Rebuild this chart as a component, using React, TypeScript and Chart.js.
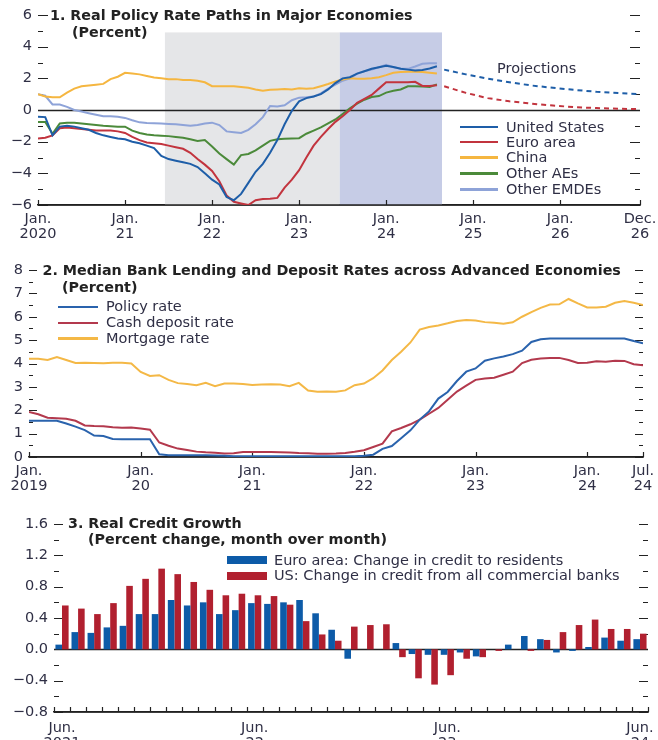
import React, { useEffect, useRef } from "react";
import { Chart, registerables } from "chart.js";
Chart.register(...registerables);

const FONT = '"DejaVu Sans", sans-serif';
const W = 658;
const TXT = "#2f2f45";
const INK = "#222222";

// ---------- Panel 1: Real policy rate paths (months since Jan 2020) ----------
const p1TickMonths = [0, 12, 24, 36, 48, 60, 72, 83];
const p1TickLabels = [["Jan.", "2020"], ["Jan.", "21"], ["Jan.", "22"], ["Jan.", "23"], ["Jan.", "24"], ["Jan.", "25"], ["Jan.", "26"], ["Dec.", "26"]];
const p1Series = ["United States", "Euro area", "China", "Other AEs", "Other EMDEs"];
const p1US = [-0.42, -0.45, -1.6, -1.05, -1.0, -1.05, -1.15, -1.25, -1.45, -1.6, -1.7, -1.8, -1.85, -2.0, -2.1, -2.25, -2.4, -2.9, -3.1, -3.2, -3.3, -3.4, -3.6, -4.0, -4.4, -4.7, -5.5, -5.7, -5.3, -4.6, -3.9, -3.4, -2.7, -1.9, -0.9, -0.05, 0.55, 0.75, 0.85, 1.0, 1.3, 1.7, 2.0, 2.07, 2.3, 2.45, 2.6, 2.7, 2.8, 2.72, 2.6, 2.55, 2.5, 2.52, 2.62, 2.76];
const p1EA = [-1.8, -1.75, -1.6, -1.15, -1.1, -1.15, -1.2, -1.25, -1.3, -1.3, -1.3, -1.35, -1.45, -1.7, -1.9, -2.05, -2.1, -2.15, -2.25, -2.35, -2.45, -2.7, -3.1, -3.45, -3.85, -4.5, -5.4, -5.8, -5.9, -6.0, -5.7, -5.62, -5.6, -5.55, -4.9, -4.4, -3.8, -3.0, -2.25, -1.7, -1.2, -0.75, -0.4, 0.0, 0.45, 0.7, 0.95, 1.35, 1.75, 1.75, 1.75, 1.76, 1.78, 1.52, 1.52, 1.56];
const p1CN = [1.0, 0.85, 0.8, 0.8, 1.1, 1.35, 1.5, 1.55, 1.6, 1.65, 1.95, 2.1, 2.35, 2.3, 2.25, 2.15, 2.05, 2.0, 1.95, 1.95, 1.9, 1.9, 1.85, 1.75, 1.5, 1.5, 1.5, 1.5, 1.45, 1.4, 1.3, 1.22, 1.28, 1.3, 1.32, 1.3, 1.37, 1.35, 1.37, 1.5, 1.64, 1.8, 1.92, 2.0, 1.98, 1.97, 2.0, 2.07, 2.2, 2.35, 2.4, 2.42, 2.42, 2.4, 2.35, 2.3];
const p1AE = [-0.75, -0.75, -1.5, -0.85, -0.8, -0.8, -0.85, -0.9, -0.95, -1.0, -1.03, -1.05, -1.05, -1.3, -1.45, -1.55, -1.6, -1.62, -1.65, -1.7, -1.75, -1.85, -1.95, -1.9, -2.3, -2.75, -3.1, -3.45, -2.85, -2.78, -2.55, -2.25, -1.95, -1.85, -1.82, -1.8, -1.78, -1.5, -1.3, -1.1, -0.85, -0.6, -0.25, 0.1, 0.4, 0.65, 0.82, 0.88, 1.1, 1.22, 1.3, 1.5, 1.5, 1.48, 1.45, 1.62];
const p1EM = [1.0, 0.9, 0.35, 0.35, 0.2, 0.0, -0.1, -0.2, -0.3, -0.4, -0.4, -0.42, -0.5, -0.65, -0.78, -0.82, -0.84, -0.85, -0.88, -0.9, -0.95, -1.0, -0.95, -0.85, -0.8, -0.95, -1.35, -1.4, -1.45, -1.25, -0.9, -0.45, 0.25, 0.22, 0.3, 0.62, 0.78, 0.8, 0.85, 1.05, 1.35, 1.6, 1.85, 2.0, 2.3, 2.45, 2.55, 2.7, 2.85, 2.7, 2.62, 2.6, 2.75, 2.92, 2.95, 2.95];
const p1ProjMonths = [56, 59, 62, 65, 68, 71, 74, 77, 80, 83];
const p1ProjUS = [2.55, 2.25, 1.98, 1.75, 1.55, 1.4, 1.27, 1.15, 1.07, 1.0];
const p1ProjEA = [1.5, 1.08, 0.75, 0.55, 0.4, 0.28, 0.18, 0.12, 0.08, 0.05];
const p1ShadeGray = [17.5, 41.6];
const p1ShadeBlue = [41.6, 55.7];
const p1ShadeTop = 4.9;

// ---------- Panel 2: Median bank rates (months since Jan 2019) ----------
const p2TickMonths = [0, 12, 24, 36, 48, 60, 66];
const p2TickLabels = [["Jan.", "2019"], ["Jan.", "20"], ["Jan.", "21"], ["Jan.", "22"], ["Jan.", "23"], ["Jan.", "24"], ["Jul.", "24"]];
const p2Series = ["Policy rate", "Cash deposit rate", "Mortgage rate"];
const p2Policy = [1.55, 1.55, 1.55, 1.55, 1.43, 1.3, 1.15, 0.92, 0.9, 0.77, 0.76, 0.76, 0.76, 0.76, 0.12, 0.07, 0.07, 0.07, 0.07, 0.07, 0.06, 0.05, 0.03, 0.03, 0.03, 0.03, 0.03, 0.03, 0.03, 0.03, 0.03, 0.03, 0.03, 0.03, 0.03, 0.03, 0.05, 0.1, 0.35, 0.47, 0.8, 1.14, 1.6, 1.95, 2.5, 2.78, 3.25, 3.65, 3.79, 4.12, 4.22, 4.3, 4.4, 4.55, 4.92, 5.04, 5.07, 5.07, 5.07, 5.07, 5.07, 5.07, 5.07, 5.07, 5.07, 4.96, 4.86];
const p2Deposit = [1.93, 1.83, 1.68, 1.66, 1.64, 1.55, 1.35, 1.33, 1.32, 1.27, 1.25, 1.26, 1.22, 1.17, 0.62, 0.48, 0.36, 0.3, 0.23, 0.2, 0.18, 0.15, 0.16, 0.21, 0.21, 0.21, 0.21, 0.2, 0.19, 0.17, 0.16, 0.14, 0.14, 0.15, 0.17, 0.22, 0.29, 0.43, 0.57, 1.1, 1.24, 1.4, 1.6, 1.85, 2.1, 2.45, 2.8, 3.05, 3.3, 3.36, 3.39, 3.52, 3.65, 4.02, 4.16, 4.21, 4.23, 4.24, 4.15, 4.02, 4.03, 4.1, 4.08, 4.12, 4.11, 3.97, 3.93];
const p2Mortgage = [4.2, 4.2, 4.15, 4.28, 4.15, 4.02, 4.03, 4.02, 4.01, 4.03, 4.03, 4.0, 3.64, 3.47, 3.5, 3.3, 3.16, 3.12, 3.07, 3.17, 3.03, 3.14, 3.14, 3.12, 3.08, 3.1, 3.11, 3.1, 3.03, 3.17, 2.84, 2.79, 2.8, 2.79, 2.85, 3.07, 3.14, 3.37, 3.7, 4.15, 4.5, 4.9, 5.45, 5.56, 5.63, 5.72, 5.82, 5.86, 5.84, 5.77, 5.74, 5.7, 5.76, 6.0, 6.2, 6.38, 6.52, 6.53, 6.76, 6.57, 6.4, 6.4, 6.43, 6.6, 6.67, 6.6, 6.5];

// ---------- Panel 3: Real credit growth (Jun 2021 - Jun 2024) ----------
const p3Months = ["Jun 2021", "Jul 2021", "Aug 2021", "Sep 2021", "Oct 2021", "Nov 2021", "Dec 2021", "Jan 2022", "Feb 2022", "Mar 2022", "Apr 2022", "May 2022", "Jun 2022", "Jul 2022", "Aug 2022", "Sep 2022", "Oct 2022", "Nov 2022", "Dec 2022", "Jan 2023", "Feb 2023", "Mar 2023", "Apr 2023", "May 2023", "Jun 2023", "Jul 2023", "Aug 2023", "Sep 2023", "Oct 2023", "Nov 2023", "Dec 2023", "Jan 2024", "Feb 2024", "Mar 2024", "Apr 2024", "May 2024", "Jun 2024"];
const p3TickIdx = [0, 12, 24, 36];
const p3TickLabels = [["Jun.", "2021"], ["Jun.", "22"], ["Jun.", "23"], ["Jun.", "24"]];
const p3Series = ["Euro area: Change in credit to residents", "US: Change in credit from all commercial banks"];
const p3EA = [0.06, 0.22, 0.21, 0.28, 0.3, 0.45, 0.45, 0.63, 0.56, 0.6, 0.45, 0.5, 0.59, 0.58, 0.6, 0.63, 0.46, 0.25, -0.12, 0.0, 0.0, 0.08, -0.06, -0.07, -0.07, -0.04, -0.09, 0.0, 0.06, 0.17, 0.13, -0.04, -0.02, 0.03, 0.15, 0.11, 0.13];
const p3US = [0.56, 0.52, 0.45, 0.59, 0.81, 0.9, 1.03, 0.96, 0.86, 0.76, 0.69, 0.71, 0.69, 0.68, 0.57, 0.36, 0.19, 0.11, 0.29, 0.31, 0.32, -0.1, -0.37, -0.45, -0.33, -0.12, -0.1, -0.02, 0.0, -0.02, 0.12, 0.22, 0.31, 0.38, 0.26, 0.26, 0.2];

// ---------- colours ----------
const C_US = "#1e5ea8";
const C_EA = "#c2343e";
const C_CN = "#f5b640";
const C_AE = "#4b8a3a";
const C_EM = "#8ea3d8";
const C2_POL = "#2a63ad";
const C2_DEP = "#b3394d";
const C2_MOR = "#f4b846";
const C3_EA = "#0d5ba8";
const C3_US = "#b1202f";

const fmtNum = (v: number, d: number) => {
  const s = Math.abs(v).toFixed(d);
  return v < -1e-9 ? "\u2212" + s : s;
};

type MarkCfg = {
  majorStep: number;
  majorLen: number;
  minorLen: number;
  zero?: boolean;
  xTickValues?: number[];
  categories?: number;
  shades?: { from: number; to: number; top: number; color: string }[];
};

function drawMarks(chart: any, cfg: MarkCfg) {
  const ctx = chart.ctx;
  const a = chart.chartArea;
  const x = chart.scales.x;
  const y = chart.scales.y;
  ctx.save();
  (cfg.shades || []).forEach((s) => {
    const x0 = x.getPixelForValue(s.from);
    const x1 = x.getPixelForValue(s.to);
    const y0 = y.getPixelForValue(s.top);
    ctx.fillStyle = s.color;
    ctx.fillRect(x0, y0, x1 - x0, a.bottom - y0);
  });
  ctx.strokeStyle = INK;
  if (cfg.zero) {
    const pz = Math.round(y.getPixelForValue(0)) + 0.5;
    ctx.lineWidth = 1.4;
    ctx.beginPath();
    ctx.moveTo(a.left, pz);
    ctx.lineTo(a.right, pz);
    ctx.stroke();
  }
  ctx.lineWidth = 1.2;
  ctx.beginPath();
  const yt = y.ticks || [];
  for (let i = 0; i < yt.length; i++) {
    const v = yt[i].value;
    const r = v / cfg.majorStep;
    const major = Math.abs(r - Math.round(r)) < 1e-6;
    const len = major ? cfg.majorLen : cfg.minorLen;
    const py = Math.round(y.getPixelForValue(v)) + 0.5;
    ctx.moveTo(a.left, py);
    ctx.lineTo(a.left + len, py);
    ctx.moveTo(a.right, py);
    ctx.lineTo(a.right - len, py);
  }
  const xs: number[] = [];
  if (cfg.categories) {
    const n = cfg.categories;
    const hw = (x.getPixelForValue(1) - x.getPixelForValue(0)) / 2;
    for (let i = 0; i < n; i++) xs.push(x.getPixelForValue(i) - hw);
    xs.push(x.getPixelForValue(n - 1) + hw);
  } else {
    (cfg.xTickValues || []).forEach((v) => xs.push(x.getPixelForValue(v)));
  }
  for (let i = 0; i < xs.length; i++) {
    const p = Math.round(xs[i]) + 0.5;
    ctx.moveTo(p, a.bottom);
    ctx.lineTo(p, a.bottom - 5);
  }
  ctx.stroke();
  ctx.lineWidth = 1.6;
  ctx.beginPath();
  ctx.moveTo(a.left, a.bottom);
  ctx.lineTo(a.right + 0.5, a.bottom);
  ctx.stroke();
  ctx.restore();
}

function makeMarks(cfg: MarkCfg) {
  return {
    id: "panelMarks",
    beforeDatasetsDraw(chart: any) {
      drawMarks(chart, cfg);
    },
  };
}

const tickFont = { family: FONT, size: 14.5, lineHeight: 1.0 };

function yAxis(min: number, max: number, step: number, width: number, label: (v: number) => string) {
  return {
    type: "linear",
    min,
    max,
    grid: { display: false, drawTicks: false },
    border: { display: false },
    ticks: {
      stepSize: step,
      autoSkip: false,
      padding: 6,
      color: TXT,
      font: tickFont,
      callback: (v: any) => label(Number(v)),
    },
    afterFit: (s: any) => {
      s.width = width;
      s.paddingTop = 0;
      s.paddingBottom = 0;
    },
  };
}

function xLinear(min: number, max: number, vals: number[], labels: string[][], height: number) {
  return {
    type: "linear",
    min,
    max,
    grid: { display: false, drawTicks: false },
    border: { display: true, color: INK, width: 1.6 },
    afterBuildTicks: (s: any) => {
      s.ticks = vals.map((v) => ({ value: v }));
    },
    ticks: {
      autoSkip: false,
      maxRotation: 0,
      minRotation: 0,
      padding: 7,
      color: TXT,
      font: tickFont,
      callback: (_v: any, i: number) => labels[i],
    },
    afterFit: (s: any) => {
      s.height = height;
      s.paddingLeft = 0;
      s.paddingRight = 0;
    },
  };
}

const basePlugins = { legend: { display: false }, tooltip: { enabled: false } };

function config1() {
  const line = (data: number[], color: string) => ({
    data: data.map((v, i) => ({ x: i, y: v })),
    borderColor: color,
    borderWidth: 2,
    pointRadius: 0,
    tension: 0,
    fill: false,
  });
  const dash = (months: number[], data: number[], color: string) => ({
    data: data.map((v, i) => ({ x: months[i], y: v })),
    borderColor: color,
    borderWidth: 2,
    borderDash: [5, 4],
    pointRadius: 0,
    tension: 0,
    fill: false,
  });
  return {
    type: "line",
    data: {
      datasets: [
        { label: p1Series[0], ...line(p1US, C_US) },
        { label: p1Series[1], ...line(p1EA, C_EA) },
        { label: p1Series[2], ...line(p1CN, C_CN) },
        { label: p1Series[3], ...line(p1AE, C_AE) },
        { label: p1Series[4], ...line(p1EM, C_EM) },
        { label: "US projection", ...dash(p1ProjMonths, p1ProjUS, C_US) },
        { label: "EA projection", ...dash(p1ProjMonths, p1ProjEA, C_EA) },
      ],
    },
    options: {
      responsive: false,
      animation: false,
      events: [],
      layout: { padding: { top: 15, right: 18, left: 0, bottom: 0 } },
      plugins: basePlugins,
      scales: {
        x: xLinear(0, 83, p1TickMonths, p1TickLabels, 45),
        y: yAxis(-6, 6, 1, 38, (v) => (Math.round(v) % 2 === 0 ? fmtNum(v, 0) : "")),
      },
    },
    plugins: [
      makeMarks({
        majorStep: 2,
        majorLen: 10,
        minorLen: 5,
        zero: true,
        xTickValues: p1TickMonths,
        shades: [
          { from: p1ShadeGray[0], to: p1ShadeGray[1], top: p1ShadeTop, color: "#e5e6e8" },
          { from: p1ShadeBlue[0], to: p1ShadeBlue[1], top: p1ShadeTop, color: "#c6cce6" },
        ],
      }),
    ],
  };
}

function config2() {
  const line = (data: number[], color: string) => ({
    data: data.map((v, i) => ({ x: i, y: v })),
    borderColor: color,
    borderWidth: 2,
    pointRadius: 0,
    tension: 0,
    fill: false,
  });
  return {
    type: "line",
    data: {
      datasets: [
        { label: p2Series[0], ...line(p2Policy, C2_POL) },
        { label: p2Series[1], ...line(p2Deposit, C2_DEP) },
        { label: p2Series[2], ...line(p2Mortgage, C2_MOR) },
      ],
    },
    options: {
      responsive: false,
      animation: false,
      events: [],
      layout: { padding: { top: 20, right: 15, left: 0, bottom: 0 } },
      plugins: basePlugins,
      scales: {
        x: xLinear(0, 66, p2TickMonths, p2TickLabels, 43),
        y: yAxis(0, 8, 0.5, 29, (v) => (Math.abs(v - Math.round(v)) < 1e-6 ? fmtNum(v, 0) : "")),
      },
    },
    plugins: [makeMarks({ majorStep: 1, majorLen: 8, minorLen: 4, xTickValues: p2TickMonths })],
  };
}

function config3() {
  const bar = (data: number[], color: string) => ({
    data,
    backgroundColor: color,
    borderWidth: 0,
    categoryPercentage: 0.82,
    barPercentage: 1.0,
  });
  return {
    type: "bar",
    data: {
      labels: p3Months,
      datasets: [
        { label: p3Series[0], ...bar(p3EA, C3_EA) },
        { label: p3Series[1], ...bar(p3US, C3_US) },
      ],
    },
    options: {
      responsive: false,
      animation: false,
      events: [],
      layout: { padding: { top: 24, right: 10, left: 0, bottom: 0 } },
      plugins: basePlugins,
      scales: {
        x: {
          type: "category",
          offset: true,
          grid: { display: false, drawTicks: false, offset: true },
          border: { display: true, color: INK, width: 1.6 },
          ticks: {
            autoSkip: false,
            maxRotation: 0,
            minRotation: 0,
            padding: 9,
            color: TXT,
            font: tickFont,
            callback: (_v: any, i: number) => {
              const k = p3TickIdx.indexOf(i);
              return k >= 0 ? p3TickLabels[k] : "";
            },
          },
          afterFit: (s: any) => {
            s.height = 28;
            s.paddingLeft = 0;
            s.paddingRight = 0;
          },
        },
        y: yAxis(-0.8, 1.6, 0.2, 54, (v) => {
          const k = Math.round(v * 10);
          return Math.abs(k) % 4 === 0 ? fmtNum(k / 10, 1) : "";
        }),
      },
    },
    plugins: [makeMarks({ majorStep: 0.4, majorLen: 9, minorLen: 5, zero: true, categories: p3Months.length })],
  };
}

function ChartCanvas({ top, height, make }: { top: number; height: number; make: () => any }) {
  const ref = useRef<HTMLCanvasElement>(null);
  useEffect(() => {
    const chart = new Chart(ref.current as HTMLCanvasElement, make());
    return () => chart.destroy();
  }, []);
  return (
    <canvas
      ref={ref}
      width={W}
      height={height}
      style={{ position: "absolute", left: 0, top, width: W, height, display: "block" }}
    />
  );
}

function Txt({ x, y, size, bold, children, color }: any) {
  return (
    <div
      style={{
        position: "absolute",
        left: x,
        top: y - size / 2,
        fontFamily: FONT,
        fontSize: size,
        lineHeight: `${size}px`,
        fontWeight: bold ? 700 : 400,
        color: color || TXT,
        whiteSpace: "nowrap",
      }}
    >
      {children}
    </div>
  );
}

function LineKey({ x, y, w, color, thick }: any) {
  return (
    <div
      style={{
        position: "absolute",
        left: x,
        top: y - thick / 2,
        width: w,
        height: thick,
        background: color,
      }}
    />
  );
}

export default function App() {
  const titleSize = 14.3;
  const legSize = 14.5;
  const p1LegY = [127, 142, 157.5, 173.5, 189.5];
  const p1LegC = [C_US, C_EA, C_CN, C_AE, C_EM];
  const p2LegY = [306.7, 322.7, 338.5];
  const p2LegC = [C2_POL, C2_DEP, C2_MOR];
  const p3LegY = [560, 575.7];
  const p3LegC = [C3_EA, C3_US];
  return (
    <div
      style={{
        position: "absolute",
        left: 0,
        top: 0,
        width: W,
        height: 740,
        background: "#ffffff",
        overflow: "hidden",
      }}
    >
      <ChartCanvas top={0} height={250} make={config1} />
      <ChartCanvas top={250} height={250} make={config2} />
      <ChartCanvas top={500} height={240} make={config3} />

      <Txt x={50} y={15} size={titleSize} bold color={INK}>1. Real Policy Rate Paths in Major Economies</Txt>
      <Txt x={72} y={32} size={titleSize} bold color={INK}>(Percent)</Txt>
      <Txt x={497} y={68} size={legSize}>Projections</Txt>
      {p1Series.map((s, i) => (
        <React.Fragment key={s}>
          <LineKey x={460} y={p1LegY[i]} w={38} color={p1LegC[i]} thick={2.5} />
          <Txt x={506} y={p1LegY[i]} size={legSize}>{s}</Txt>
        </React.Fragment>
      ))}

      <Txt x={42.5} y={270} size={titleSize} bold color={INK}>2. Median Bank Lending and Deposit Rates across Advanced Economies</Txt>
      <Txt x={62} y={287} size={titleSize} bold color={INK}>(Percent)</Txt>
      {p2Series.map((s, i) => (
        <React.Fragment key={s}>
          <LineKey x={58} y={p2LegY[i]} w={40} color={p2LegC[i]} thick={2.2} />
          <Txt x={106} y={p2LegY[i]} size={legSize}>{s}</Txt>
        </React.Fragment>
      ))}

      <Txt x={68} y={523.3} size={titleSize} bold color={INK}>3. Real Credit Growth</Txt>
      <Txt x={88} y={539.3} size={titleSize} bold color={INK}>(Percent change, month over month)</Txt>
      {p3Series.map((s, i) => (
        <React.Fragment key={s}>
          <LineKey x={227} y={p3LegY[i]} w={40} color={p3LegC[i]} thick={8} />
          <Txt x={274} y={p3LegY[i]} size={legSize}>{s}</Txt>
        </React.Fragment>
      ))}
    </div>
  );
}
